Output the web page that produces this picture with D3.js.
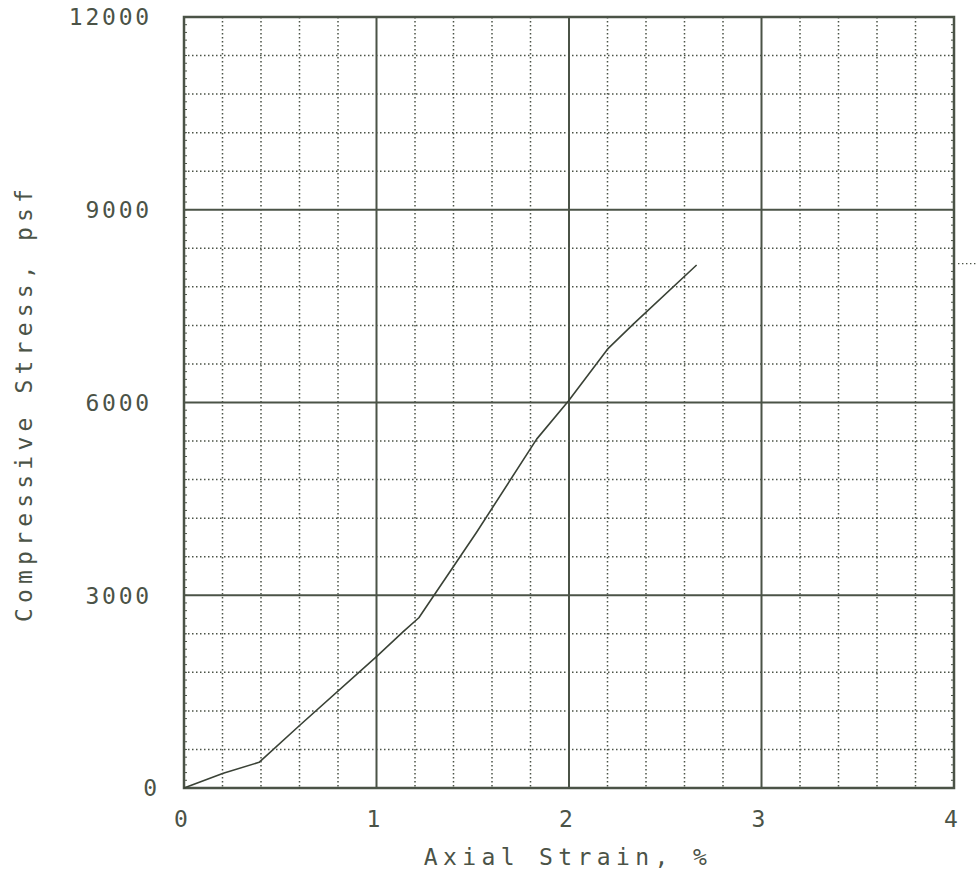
<!DOCTYPE html>
<html>
<head>
<meta charset="utf-8">
<script src="https://cdn.jsdelivr.net/npm/d3@7"></script>
<style>
  html, body { margin: 0; padding: 0; background: #ffffff; }
  svg { display: block; }
  .lbl { font-family: "DejaVu Sans Mono", monospace; fill: #4b5347; }
</style>
</head>
<body>
<svg id="chart" width="980" height="873"></svg>
<script>
// ---- data ----
const strain = [0, 0.204, 0.39, 0.603, 1.0, 1.139, 1.22, 1.52, 1.832, 1.996, 2.204, 2.334, 2.663];
const stress = [0, 229, 400, 981, 2044, 2433, 2650, 3980, 5430, 6020, 6843, 7220, 8140];
const xTicks = [0, 1, 2, 3, 4];
const yTicks = [0, 3000, 6000, 9000, 12000];
const xTitle = "Axial Strain, %";
const yTitle = "Compressive Stress, psf";

// ---- layout ----
const svg = d3.select("#chart");
const L = 184, R = 954, T = 17, B = 788;
const x = d3.scaleLinear().domain([0, 4]).range([L, R]);
const y = d3.scaleLinear().domain([0, 12000]).range([B, T]);
const ink = "#4b5347";

// minor dotted grid
const xMinor = d3.range(0, 4.0001, 0.2).filter(v => Math.abs(v - Math.round(v)) > 1e-6);
const yMinor = d3.range(0, 12000.1, 600).filter(v => v % 3000 !== 0);
const g = svg.append("g");
g.selectAll("line.xm").data(xMinor).join("line")
  .attr("x1", d => x(d)).attr("x2", d => x(d)).attr("y1", T).attr("y2", B)
  .attr("stroke", ink).attr("stroke-width", 1.5).attr("stroke-dasharray", "1.5,2.5");
g.selectAll("line.ym").data(yMinor).join("line")
  .attr("x1", L).attr("x2", R).attr("y1", d => y(d)).attr("y2", d => y(d))
  .attr("stroke", ink).attr("stroke-width", 1.5).attr("stroke-dasharray", "1.5,2.5");

// major solid grid
g.selectAll("line.xM").data(xTicks.slice(1, -1)).join("line")
  .attr("x1", d => x(d)).attr("x2", d => x(d)).attr("y1", T).attr("y2", B)
  .attr("stroke", ink).attr("stroke-width", 2);
g.selectAll("line.yM").data(yTicks.slice(1, -1)).join("line")
  .attr("x1", L).attr("x2", R).attr("y1", d => y(d)).attr("y2", d => y(d))
  .attr("stroke", ink).attr("stroke-width", 2);

// small inner ticks along the frame
const ySmall = d3.range(0, 12000.1, 120);
g.selectAll("line.ls").data(ySmall).join("line")
  .attr("x1", L).attr("x2", L + 3).attr("y1", d => y(d)).attr("y2", d => y(d))
  .attr("stroke", ink).attr("stroke-width", 1);
g.selectAll("line.rs").data(ySmall).join("line")
  .attr("x1", R - 3).attr("x2", R).attr("y1", d => y(d)).attr("y2", d => y(d))
  .attr("stroke", ink).attr("stroke-width", 1);

// frame
svg.append("rect").attr("x", L).attr("y", T).attr("width", R - L).attr("height", B - T)
  .attr("fill", "none").attr("stroke", ink).attr("stroke-width", 2.5);

// stray dotted mark at right edge (as in reference)
svg.append("line").attr("x1", x(4) + 4).attr("x2", x(4) + 22)
  .attr("y1", y(8160)).attr("y2", y(8160))
  .attr("stroke", ink).attr("stroke-width", 1.3).attr("stroke-dasharray", "1.4,2.6");

// curve
const pts = strain.map((s, i) => [s, stress[i]]);
svg.append("path").datum(pts)
  .attr("d", d3.line().x(d => x(d[0])).y(d => y(d[1])))
  .attr("fill", "none").attr("stroke", "#3a4236").attr("stroke-width", 1.6)
  .attr("stroke-linejoin", "round");

// tick labels
svg.selectAll("text.yt").data(yTicks).join("text").attr("class", "lbl")
  .attr("x", d => d === 0 ? 160 : 152).attr("y", d => y(d)).attr("dy", "0.36em")
  .attr("text-anchor", "end").style("font-size", "23px").style("letter-spacing", "2.8px")
  .text(d => d);
svg.selectAll("text.xt").data(xTicks).join("text").attr("class", "lbl")
  .attr("x", d => x(d) - 3).attr("y", 827)
  .attr("text-anchor", "middle").style("font-size", "23px")
  .text(d => d);

// axis titles
svg.append("text").attr("class", "lbl")
  .attr("x", 568).attr("y", 865).attr("text-anchor", "middle")
  .style("font-size", "23px").style("letter-spacing", "5.4px")
  .text(xTitle);
svg.append("text").attr("class", "lbl")
  .attr("transform", "translate(32,403) rotate(-90)").attr("text-anchor", "middle")
  .style("font-size", "23px").style("letter-spacing", "5.2px")
  .text(yTitle);
</script>
</body>
</html>
